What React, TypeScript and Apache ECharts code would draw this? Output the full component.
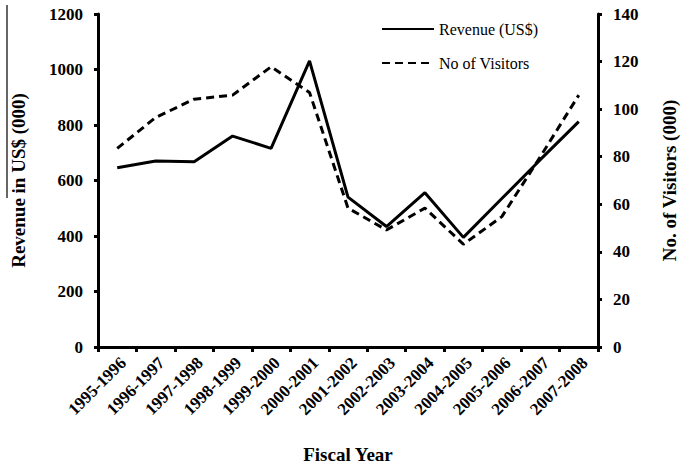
import React, { useEffect, useRef } from "react";
import * as echarts from "echarts";

const categories = [
  "1995-1996", "1996-1997", "1997-1998", "1998-1999", "1999-2000", "2000-2001",
  "2001-2002", "2002-2003", "2003-2004", "2004-2005", "2005-2006", "2006-2007", "2007-2008",
];
const revenue = [646, 670, 668, 760, 716, 1031, 540, 434, 556, 395, 535, 675, 812];
const visitors = [83.5, 96.5, 104.2, 105.9, 117.8, 107, 58.4, 49.2, 58.4, 43.2, 54.8, 80, 105.9];

const FONT = "Liberation Serif";

export default function App() {
  const ref = useRef<HTMLDivElement>(null);
  useEffect(() => {
    const chart = echarts.init(ref.current!, null, { renderer: "svg" });
    chart.setOption({
      animation: false,
      backgroundColor: "#ffffff",
      grid: { left: 98, right: 85, top: 14, bottom: 123 },
      legend: {
        left: 376,
        top: 16,
        orient: "vertical",
        itemWidth: 52,
        itemHeight: 14,
        itemGap: 18,
        itemStyle: { opacity: 0 },
        textStyle: { fontFamily: FONT, fontSize: 16, color: "#000" },
        data: ["Revenue (US$)", "No of Visitors"],
      },
      xAxis: {
        type: "category",
        data: categories,
        boundaryGap: true,
        name: "Fiscal Year",
        nameLocation: "middle",
        nameGap: 98,
        nameTextStyle: { fontFamily: FONT, fontSize: 19, fontWeight: "bold", color: "#000" },
        axisLine: { lineStyle: { color: "#000", width: 3 } },
        axisTick: { show: true, length: 5, lineStyle: { color: "#000", width: 3 } },
        axisLabel: {
          rotate: 45,
          margin: 7,
          interval: 0,
          verticalAlign: "top",
          fontFamily: FONT,
          fontSize: 17,
          fontWeight: "bold",
          color: "#000",
        },
      },
      yAxis: [
        {
          type: "value",
          min: 0,
          max: 1200,
          interval: 200,
          name: "Revenue in US$ (000)",
          nameLocation: "middle",
          nameGap: 70,
          nameTextStyle: { fontFamily: FONT, fontSize: 19, fontWeight: "bold", color: "#000" },
          splitLine: { show: false },
          axisLine: { show: true, lineStyle: { color: "#000", width: 3 } },
          axisTick: { show: true, length: 4, lineStyle: { color: "#000", width: 3 } },
          axisLabel: {
            margin: 15,
            fontFamily: FONT,
            fontSize: 17,
            fontWeight: "bold",
            color: "#000",
            formatter: (v: number) => String(v),
          },
        },
        {
          type: "value",
          min: 0,
          max: 140,
          interval: 20,
          position: "right",
          name: "No. of Visitors (000)",
          nameLocation: "middle",
          nameGap: 62,
          nameTextStyle: { fontFamily: FONT, fontSize: 19, fontWeight: "bold", color: "#000" },
          splitLine: { show: false },
          axisLine: { show: true, lineStyle: { color: "#000", width: 3 } },
          axisTick: { show: true, length: 4, lineStyle: { color: "#000", width: 3 } },
          axisLabel: {
            margin: 15,
            fontFamily: FONT,
            fontSize: 17,
            fontWeight: "bold",
            color: "#000",
            formatter: (v: number) => String(v),
          },
        },
      ],
      series: [
        {
          name: "Revenue (US$)",
          type: "line",
          yAxisIndex: 0,
          data: revenue,
          symbol: "none",
          color: "#000",
          lineStyle: { color: "#000", width: 3, type: "solid" },
        },
        {
          name: "No of Visitors",
          type: "line",
          yAxisIndex: 1,
          data: visitors,
          symbol: "none",
          color: "#000",
          lineStyle: { color: "#000", width: 3, type: [8, 5] },
        },
      ],
      graphic: [
        {
          type: "line",
          shape: { x1: 7, y1: 5, x2: 7, y2: 198 },
          style: { stroke: "#000", lineWidth: 1.2 },
        },
      ],
    });
    return () => chart.dispose();
  }, []);
  return <div ref={ref} style={{ width: 687, height: 470, position: "absolute", left: 0, top: 0 }} />;
}
